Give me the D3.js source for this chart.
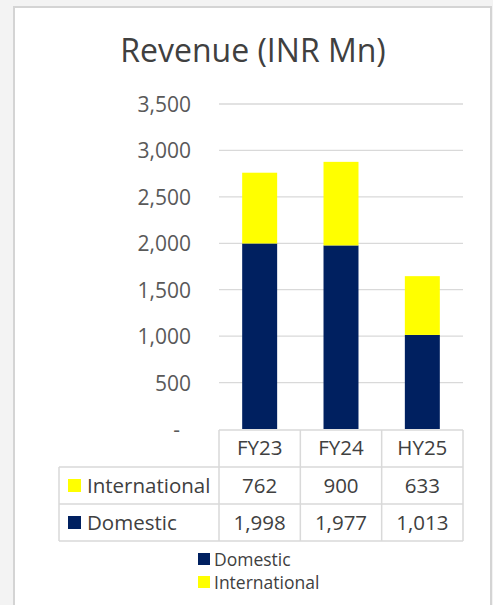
<!DOCTYPE html>
<html>
<head>
<meta charset="utf-8">
<script src="https://cdn.jsdelivr.net/npm/d3@7"></script>
<style>
  body { margin: 0; background: #f3f3f3; }
  svg { display: block; font-family: "Open Sans", sans-serif; }
</style>
</head>
<body>
<svg width="493" height="605"></svg>
<script>
var categories = ['FY23', 'FY24', 'HY25'];
var domestic = [1998, 1977, 1013];
var international = [762, 900, 633];
var yTicks = [0, 500, 1000, 1500, 2000, 2500, 3000, 3500];

var series = [
  {name: 'Domestic', values: domestic, color: '#002060'},
  {name: 'International', values: international, color: '#ffff00'}
];

var svg = d3.select('svg');
var textColor = '#404040';
var gridColor = '#d9d9d9';

// panel behind the chart
svg.append('rect')
  .attr('width', 493).attr('height', 605)
  .attr('fill', '#f3f3f3');
svg.append('rect')
  .attr('x', 14).attr('y', 7)
  .attr('width', 477).attr('height', 620)
  .attr('fill', '#fff')
  .attr('stroke', '#d4d4d4')
  .attr('stroke-width', 2);

svg.append('text')
  .attr('x', 253).attr('y', 62)
  .attr('text-anchor', 'middle')
  .attr('font-size', 32)
  .attr('fill', textColor)
  .text('Revenue (INR Mn)');

var xScale = d3.scaleBand()
  .domain(categories)
  .range([219, 463])
  .paddingInner(0.57)
  .paddingOuter(0.285);

var colScale = d3.scaleBand()
  .domain(categories)
  .range([219, 463]);

var yScale = d3.scaleLinear()
  .domain([0, 3500])
  .range([429, 104]);

// gridlines
svg.append('g')
  .selectAll('line')
  .data(yTicks.filter(d => d > 0))
  .enter()
  .append('line')
  .attr('x1', 219).attr('x2', 463)
  .attr('y1', d => yScale(d)).attr('y2', d => yScale(d))
  .attr('stroke', gridColor)
  .attr('stroke-width', 1.3);

var fmt = d3.format(',');
var yAxis = svg.append('g')
  .attr('transform', 'translate(219,0)')
  .call(d3.axisLeft(yScale).tickValues(yTicks).tickSize(0).tickPadding(28)
    .tickFormat(d => d === 0 ? '-' : fmt(d)));
yAxis.select('.domain').remove();
yAxis.selectAll('text')
  .attr('font-size', 21)
  .attr('font-family', '"Open Sans", sans-serif')
  .attr('fill', '#595959')
  .attr('dy', '0.36em');
yAxis.selectAll('.tick').filter(d => d === 0).select('text')
  .attr('dx', -11);

// stacked bars
var stacked = categories.map(function(c, i) {
  var base = 0;
  return series.map(function(s) {
    var seg = {cat: c, y0: base, y1: base + s.values[i], color: s.color};
    base += s.values[i];
    return seg;
  });
});

svg.append('g')
  .selectAll('g')
  .data(stacked)
  .enter()
  .append('g')
  .selectAll('rect')
  .data(d => d)
  .enter()
  .append('rect')
  .attr('x', d => xScale(d.cat))
  .attr('width', xScale.bandwidth())
  .attr('y', d => yScale(d.y1))
  .attr('height', d => yScale(d.y0) - yScale(d.y1))
  .attr('fill', d => d.color);

// data table
var table = svg.append('g');
var headerTop = 430, rowH = 37, labelLeft = 59;
var rows = [series[1], series[0]];
var borderColor = '#d9d9d9';

table.append('path')
  .attr('fill', 'none')
  .attr('stroke', borderColor)
  .attr('stroke-width', 1.5)
  .attr('d', function() {
    var p = d3.path();
    var bottom = headerTop + rowH * 3;
    p.moveTo(219, headerTop); p.lineTo(463, headerTop);
    p.moveTo(labelLeft, headerTop + rowH); p.lineTo(463, headerTop + rowH);
    p.moveTo(labelLeft, headerTop + rowH * 2); p.lineTo(463, headerTop + rowH * 2);
    p.moveTo(labelLeft, bottom); p.lineTo(463, bottom);
    p.moveTo(labelLeft, headerTop + rowH); p.lineTo(labelLeft, bottom);
    categories.forEach(function(c) {
      p.moveTo(colScale(c), headerTop); p.lineTo(colScale(c), bottom);
    });
    p.moveTo(463, headerTop); p.lineTo(463, bottom);
    return p.toString();
  });

table.selectAll('.head')
  .data(categories)
  .enter()
  .append('text')
  .attr('class', 'head')
  .attr('x', d => colScale(d) + colScale.bandwidth() / 2)
  .attr('y', headerTop + 25)
  .attr('text-anchor', 'middle')
  .attr('font-size', 20.5)
  .attr('fill', textColor)
  .text(d => d);

var rowG = table.selectAll('.row')
  .data(rows)
  .enter()
  .append('g')
  .attr('transform', (d, i) => 'translate(0,' + (headerTop + rowH * (i + 1)) + ')');

rowG.append('rect')
  .attr('x', 68).attr('y', 12)
  .attr('width', 13).attr('height', 13)
  .attr('fill', d => d.color);

rowG.append('text')
  .attr('x', 87).attr('y', 25.5)
  .attr('font-size', 20.5)
  .attr('fill', textColor)
  .text(d => d.name);

rowG.selectAll('.val')
  .data(d => d.values)
  .enter()
  .append('text')
  .attr('x', (d, i) => colScale(categories[i]) + colScale.bandwidth() / 2)
  .attr('y', 25.5)
  .attr('text-anchor', 'middle')
  .attr('font-size', 20.5)
  .attr('fill', textColor)
  .text(d => fmt(d));

// legend
var legend = svg.append('g')
  .selectAll('g')
  .data(series)
  .enter()
  .append('g')
  .attr('transform', (d, i) => 'translate(198,' + (553 + i * 23) + ')');

legend.append('rect')
  .attr('width', 12).attr('height', 12)
  .attr('fill', d => d.color);

legend.append('text')
  .attr('x', 16).attr('y', 12.5)
  .attr('font-size', 17.5)
  .attr('fill', textColor)
  .text(d => d.name);
</script>
</body>
</html>
